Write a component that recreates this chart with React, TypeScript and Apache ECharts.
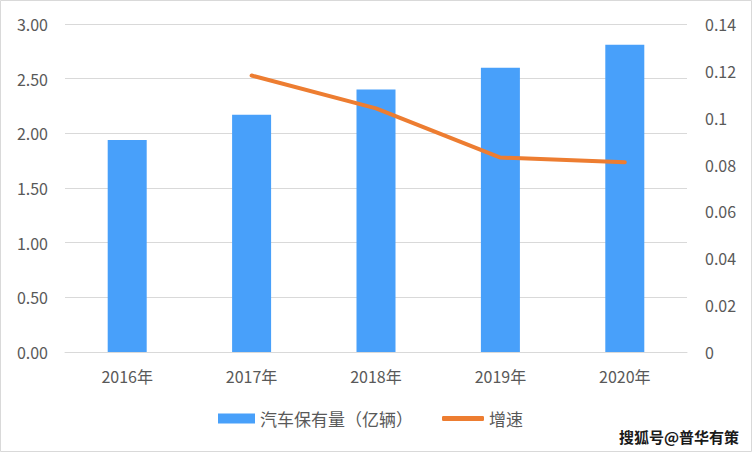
import React, { useEffect, useRef } from "react";
import * as echarts from "echarts";

const categories = ["2016年", "2017年", "2018年", "2019年", "2020年"];
const stockValues = [1.94, 2.17, 2.4, 2.6, 2.81];
const growthValues: (number | null)[] = [null, 0.118, 0.104, 0.083, 0.081];
const leftTicks = { min: 0, max: 3, interval: 0.5 };
const rightTicks = { min: 0, max: 0.14, interval: 0.02 };
const barName = "汽车保有量（亿辆）";
const lineName = "增速";
const watermark = "搜狐号@普华有策";

const FONT = "'Noto Sans CJK SC', 'Noto Sans', sans-serif";

export default function App() {
  const ref = useRef<HTMLDivElement>(null);
  useEffect(() => {
    if (!ref.current) return;
    const chart = echarts.init(ref.current, undefined, { renderer: "svg" });
    chart.setOption({
      animation: false,
      backgroundColor: "#ffffff",
      textStyle: { fontFamily: FONT },
      grid: { left: 65, right: 65, top: 24, bottom: 100 },
      legend: [
        {
          data: [{ name: barName, icon: "rect" }],
          left: 218,
          top: 410,
          padding: 0,
          itemWidth: 37,
          itemHeight: 10,
          itemGap: 5,
          textStyle: { fontSize: 17, color: "#595959", fontFamily: FONT },
        },
        {
          data: [{ name: lineName, icon: "roundRect" }],
          left: 442,
          top: 410,
          padding: 0,
          itemWidth: 42,
          itemHeight: 5,
          textStyle: { fontSize: 17, color: "#595959", fontFamily: FONT },
        },
      ],
      xAxis: {
        type: "category",
        data: categories,
        axisTick: { show: false },
        axisLine: { lineStyle: { color: "#d9d9d9", width: 1 } },
        axisLabel: { color: "#595959", fontSize: 16, margin: 16, fontFamily: FONT },
      },
      yAxis: [
        {
          type: "value",
          min: leftTicks.min,
          max: leftTicks.max,
          interval: leftTicks.interval,
          axisLine: { show: false },
          axisTick: { show: false },
          splitLine: { lineStyle: { color: "#d9d9d9", width: 1 } },
          axisLabel: {
            color: "#595959",
            fontSize: 16,
            margin: 17,
            fontFamily: FONT,
            formatter: (v: number) => v.toFixed(2),
          },
        },
        {
          type: "value",
          min: rightTicks.min,
          max: rightTicks.max,
          interval: rightTicks.interval,
          axisLine: { show: false },
          axisTick: { show: false },
          splitLine: { show: false },
          axisLabel: {
            color: "#595959",
            fontSize: 16,
            margin: 18,
            fontFamily: FONT,
            formatter: (v: number) => String(parseFloat(v.toFixed(2))),
          },
        },
      ],
      series: [
        {
          name: barName,
          type: "bar",
          data: stockValues,
          barWidth: 39,
          itemStyle: { color: "#48A0FA" },
          yAxisIndex: 0,
        },
        {
          name: lineName,
          type: "line",
          data: growthValues,
          yAxisIndex: 1,
          symbol: "none",
          lineStyle: { color: "#ED7D31", width: 4, cap: "round", join: "round" },
          itemStyle: { color: "#ED7D31" },
        },
      ],
      graphic: [
        {
          type: "rect",
          shape: { x: 0.5, y: 0.5, width: 751, height: 451 },
          style: { fill: "none", stroke: "#d9d9d9", lineWidth: 1 },
          silent: true,
        },
        {
          type: "text",
          right: 12,
          top: 428,
          style: {
            text: watermark,
            fontSize: 15,
            fontWeight: "bold",
            fill: "#1a1a1a",
            stroke: "#ffffff",
            lineWidth: 2,
            fontFamily: FONT,
          },
        },
      ],
    });
    return () => chart.dispose();
  }, []);
  return (
    <div
      ref={ref}
      style={{ position: "fixed", left: 0, top: 0, width: 752, height: 452 }}
    />
  );
}
